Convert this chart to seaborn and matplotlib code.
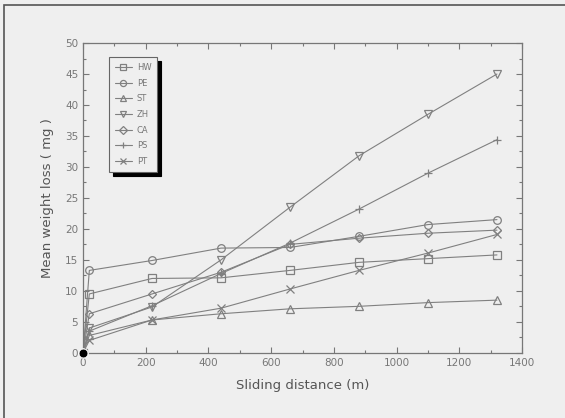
import matplotlib
matplotlib.use("Agg")
import matplotlib.pyplot as plt
import pandas as pd
import seaborn as sns
from matplotlib.ticker import MultipleLocator

distance = [0, 20, 220, 440, 660, 880, 1100, 1320]
series = ["HW", "PE", "ST", "ZH", "CA", "PS", "PT"]
hw = [0, 9.5, 12.0, 12.1, 13.3, 14.6, 15.2, 15.8]
pe = [0, 13.3, 14.9, 16.9, 17.0, 18.8, 20.7, 21.5]
st = [0, 2.8, 5.3, 6.3, 7.1, 7.5, 8.1, 8.5]
zh = [0, 4.0, 7.4, 15.0, 23.5, 31.8, 38.5, 45.0]
ca = [0, 6.3, 9.5, 13.0, 17.5, 18.5, 19.3, 19.8]
ps = [0, 3.5, 7.6, 12.8, 17.7, 23.2, 29.0, 34.4]
pt = [0, 2.0, 5.3, 7.2, 10.3, 13.3, 16.1, 19.1]
markers = {"HW": "s", "PE": "o", "ST": "^", "ZH": "v", "CA": "D", "PS": "+", "PT": "x"}

values = dict(zip(series, [hw, pe, st, zh, ca, ps, pt]))
df = pd.DataFrame(
    [(name, d, v) for name in series for d, v in zip(distance, values[name])],
    columns=["material", "distance", "loss"],
)

sns.set_style("ticks")
plt.rcParams["font.family"] = ["DejaVu Sans"]
bg = "#efefef"
grey = "#808080"

fig = plt.figure(figsize=(5.65, 4.18), dpi=100, facecolor=bg)
ax = fig.add_axes([0.147, 0.156, 0.777, 0.741], facecolor=bg)

for name in series:
    sub = df[df["material"] == name]
    sns.lineplot(data=sub, x="distance", y="loss", ax=ax, color=grey, lw=0.8,
                 marker=markers[name], markersize=5.5 if markers[name] != "D" else 4.5,
                 markerfacecolor="none", markeredgecolor=grey, markeredgewidth=0.9,
                 label=name, legend=False)

origin = df[df["distance"] == 0]
sns.scatterplot(data=origin, x="distance", y="loss", ax=ax, color="black",
                s=40, zorder=5, legend=False, clip_on=False)

ax.set_xlim(0, 1400)
ax.set_ylim(0, 50)
ax.xaxis.set_major_locator(MultipleLocator(200))
ax.xaxis.set_minor_locator(MultipleLocator(100))
ax.yaxis.set_major_locator(MultipleLocator(5))
ax.yaxis.set_minor_locator(MultipleLocator(2.5))
ax.tick_params(which="both", direction="in", top=True, right=True,
               colors="#777777", labelsize=7.5, width=0.8)
ax.tick_params(which="major", length=4)
ax.tick_params(which="minor", length=2)
for sp in ax.spines.values():
    sp.set_color("#777777")
    sp.set_linewidth(0.9)

ax.set_xlabel("Sliding distance (m)", fontsize=9.5, color="#555555", labelpad=8)
ax.set_ylabel("Mean weight loss ( mg )", fontsize=9.5, color="#555555", labelpad=8)

handles, labels = ax.get_legend_handles_labels()
leg = ax.legend(handles, labels, loc="upper left", bbox_to_anchor=(0.05, 0.968),
                fontsize=6, labelcolor="#777777", frameon=True, fancybox=False,
                shadow={"color": "black", "alpha": 1, "ox": 3, "oy": -3},
                handlelength=2.0, handletextpad=0.6, labelspacing=0.8,
                borderpad=0.7, framealpha=1, markerscale=0.8)
leg.get_frame().set_edgecolor("#666666")
leg.get_frame().set_facecolor(bg)
leg.get_frame().set_linewidth(0.8)

fig.patches.append(plt.Rectangle((0.007, -0.01), 1.2, 0.998, transform=fig.transFigure,
                                 fill=False, edgecolor="#555555", lw=1.2))

fig.savefig("out.png", dpi=100, facecolor=bg)
